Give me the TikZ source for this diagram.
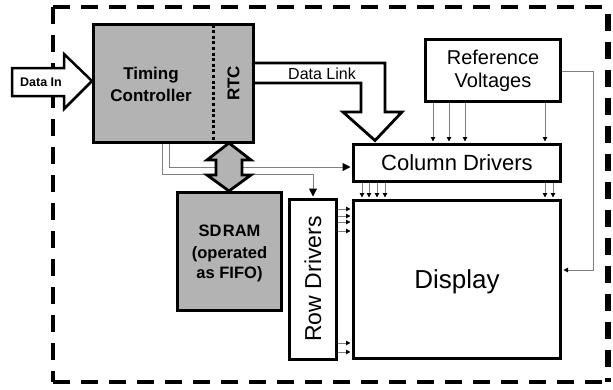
\documentclass[tikz,border=0pt]{standalone}
\usepackage{fontspec}
\setmainfont{Liberation Sans}
\usetikzlibrary{arrows.meta,calc}
\definecolor{boxgray}{RGB}{179,179,179}
\definecolor{linegray}{RGB}{128,128,128}
\begin{document}
\begin{tikzpicture}[x=1pt,y=-1pt,
  blk/.style={draw=black,line width=3pt,inner sep=0pt,fill=white},
  shade/.style={fill=boxgray},
  conn/.style={draw=linegray,line width=1pt,shorten >=1.5pt,-{Triangle[length=4.5pt,width=4.5pt,color=black]}},
  bigconn/.style={draw=linegray,line width=1pt,shorten >=1.5pt,-{Triangle[length=8pt,width=8pt,color=black]}},
  fatarrow/.style={draw=black,line width=2.8pt,line join=miter},
  frame/.style={line width=4pt,dash pattern=on 17pt off 11pt}]
\useasboundingbox (0,0) rectangle (613,389);
% outer dashed frame
\draw[frame] (53,7) -- (605,7);
\draw[frame] (53,7) -- (53,382);
\draw[frame] (53,382) -- (609,382);
\draw[frame,line width=6pt] (608,14) -- (608,382);
% blocks
\node[blk,shade,minimum width=160pt,minimum height=118pt] (tc) at (173.5,83.5) {};
\node[blk,minimum width=135pt,minimum height=62pt] (ref) at (493,70.5) {};
\node[blk,minimum width=207pt,minimum height=37pt] (col) at (457,163) {};
\node[blk,minimum width=207pt,minimum height=158pt] (disp) at (457,279.5) {};
\node[blk,minimum width=47pt,minimum height=160pt] (row) at (313,279.5) {};
\node[blk,shade,minimum width=104pt,minimum height=118pt] (sdram) at (229.5,251.5) {};
% texts
\node[font=\bfseries\fontsize{17}{22}\selectfont,align=center] (tct) at (151,84) {Timing\\Controller};
\node[font=\bfseries\fontsize{17}{20}\selectfont,rotate=90] (rtc) at (233.5,83.5) {RTC};
\draw[line width=3pt,dash pattern=on 3pt off 2.6pt] (213,24.5) -- (213,142.5);
\node[font=\fontsize{20}{23}\selectfont,align=center] (reft) at (ref) {Reference\\Voltages};
\node[font=\fontsize{22}{26}\selectfont] (colt) at (col) {Column Drivers};
\node[font=\fontsize{26}{30}\selectfont] (dispt) at (457,282) {Display};
\node[font=\fontsize{23}{27}\selectfont,rotate=90] (rowt) at (313,279) {Row Drivers};
\node[font=\bfseries\fontsize{16.5}{20}\selectfont,align=center] (sdt) at (229.5,253) {SD\hspace{1.5pt}RAM\\[2pt](operated\\as FIFO)};
% thin connectors from timing controller
\draw[bigconn] (tc.south -| 169,0) -- (169,167) -- (col.west |- 0,167);
\draw[bigconn] (tc.south -| 162,0) -- (162,174) -- (313,174) -- (row.north);
% double arrow TC <-> SDRAM
\draw[fatarrow,fill=boxgray] (229,143) -- (251,160) -- (242,160) -- (242,175) -- (251,175) -- (229,191) -- (207,175) -- (216,175) -- (216,160) -- (207,160) -- cycle;
% data in arrow
\draw[fatarrow,line width=2.5pt,fill=white] (12,68) -- (64,68) -- (64,54) -- (tc.west |- 0,81) -- (64,109) -- (64,96) -- (12,96) -- cycle;
\node[font=\bfseries\fontsize{12.5}{14}\selectfont] (din) at (41,82) {Data In};
% data link arrow
\fill[white] (256,63) -- (385,63) -- (385,112) -- (402,112) -- (375,140) -- (343,112) -- (361,112) -- (361,83) -- (256,83) -- cycle;
\draw[fatarrow] (tc.east |- 0,63) -- (385,63) -- (385,112) -- (402,112) -- (375,140.5) -- (343,112) -- (361,112) -- (361,83) -- (tc.east |- 0,83);
\node[font=\fontsize{16}{18}\selectfont] (dl) at (322,74) {Data Link};
% reference voltages -> column drivers
\foreach \x in {433,449,465,545} \draw[conn] (ref.south -| \x,0) -- (col.north -| \x,0);
% column drivers -> display
\foreach \x in {362,369,377,385,545,553} \draw[conn] (col.south -| \x,0) -- (disp.north -| \x,0);
% row drivers -> display
\foreach \y in {209,216,222,231,343,352} \draw[conn] (row.east |- 0,\y) -- (disp.west |- 0,\y);
% reference voltages -> display
\draw[conn] (ref.east |- 0,71) -- (593,71) -- (593,270) -- (disp.east |- 0,270);
\end{tikzpicture}
\end{document}
